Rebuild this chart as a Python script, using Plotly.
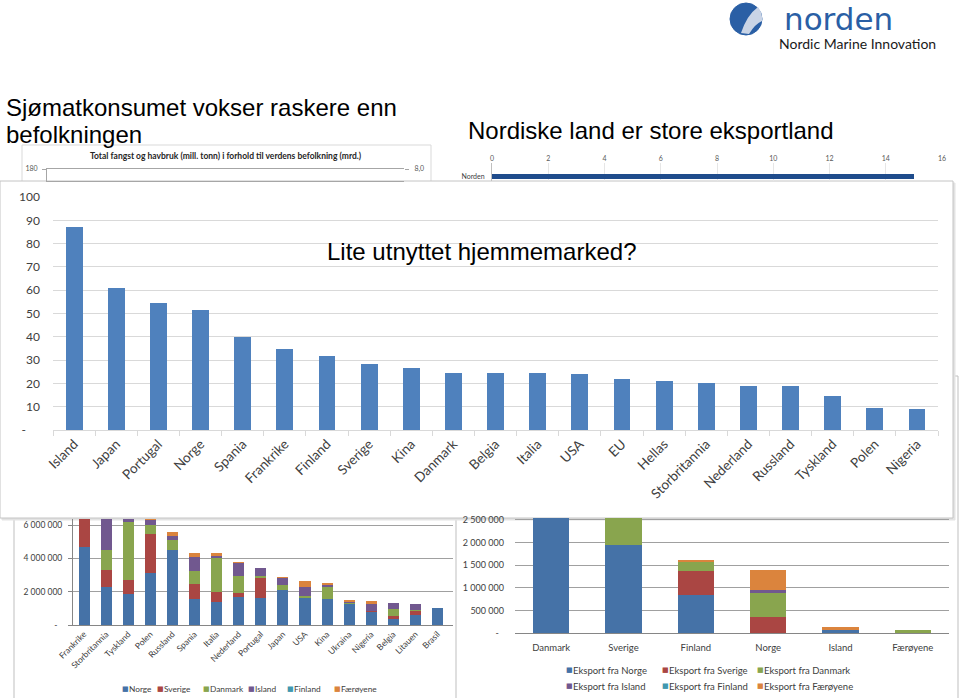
import plotly.graph_objects as go

W, H = 959, 698


def fx(x):
    return x / W


def fy(y):
    return 1 - y / H


# ---------------- data ----------------
# Front chart: "Lite utnyttet hjemmemarked?"
konsum_land = ["Island", "Japan", "Portugal", "Norge", "Spania", "Frankrike", "Finland",
               "Sverige", "Kina", "Danmark", "Belgia", "Italia", "USA", "EU", "Hellas",
               "Storbritannia", "Nederland", "Russland", "Tyskland", "Polen", "Nigeria"]
konsum_verdi = [87.2, 60.8, 54.7, 51.3, 39.9, 34.7, 31.7, 28.4, 26.4, 24.3, 24.3, 24.3,
                23.9, 21.9, 20.9, 20.3, 19.0, 18.7, 14.6, 9.3, 8.9]
konsum_tickvals = [0, 10, 20, 30, 40, 50, 60, 70, 80, 90, 100]
konsum_ticktext = ["-\u2007\u2007", "10", "20", "30", "40", "50", "60", "70", "80", "90", "100"]

# Top-right chart: "Nordiske land er store eksportland"
norden_kat = ["Norden"]
norden_verdi = [15.0]
norden_tickvals = [0, 2, 4, 6, 8, 10, 12, 14, 16]

# Top-left chart (only its frame and axis labels are visible)
tl_venstre_tick = [180]
tl_venstre_tekst = ["180"]
tl_hoyre_tick = [8.0]
tl_hoyre_tekst = ["8,0"]

# Bottom-left chart: import by country, split by Nordic exporter
import_land = ["Frankrike", "Storbritannia", "Tyskland", "Polen", "Russland", "Spania", "Italia",
               "Nederland", "Portugal", "Japan", "USA", "Kina", "Ukraina", "Nigeria", "Belgia",
               "Litauen", "Brasil"]
eksportor_navn = ["Norge", "Sverige", "Danmark", "Island", "Finland", "Færøyene"]
imp_norge = [4.70e6, 2.26e6, 1.84e6, 3.10e6, 4.50e6, 1.56e6, 1.40e6, 1.66e6, 1.62e6, 2.10e6,
             1.64e6, 1.56e6, 1.26e6, 0.80e6, 0.36e6, 0.60e6, 1.04e6]
imp_sverige = [2.00e6, 1.04e6, 0.86e6, 2.36e6, 0.02e6, 0.90e6, 0.60e6, 0.28e6, 1.22e6, 0.0,
               0.02e6, 0.0, 0.0, 0.02e6, 0.20e6, 0.24e6, 0.0]
imp_danmark = [0.60e6, 1.20e6, 3.50e6, 0.54e6, 0.56e6, 0.80e6, 2.00e6, 1.00e6, 0.10e6, 0.30e6,
               0.10e6, 0.70e6, 0.10e6, 0.0, 0.38e6, 0.06e6, 0.0]
imp_island = [0.40e6, 2.20e6, 0.30e6, 0.30e6, 0.28e6, 0.84e6, 0.14e6, 0.80e6, 0.46e6, 0.42e6,
              0.50e6, 0.18e6, 0.06e6, 0.42e6, 0.40e6, 0.34e6, 0.0]
imp_finland = [0.0] * 17
imp_faroyene = [0.10e6, 0.20e6, 0.10e6, 0.10e6, 0.20e6, 0.20e6, 0.16e6, 0.04e6, 0.0, 0.05e6,
                0.38e6, 0.10e6, 0.04e6, 0.22e6, 0.0, 0.0, 0.0]
import_serier = [imp_norge, imp_sverige, imp_danmark, imp_island, imp_finland, imp_faroyene]
bl_tickvals = [0, 2e6, 4e6, 6e6]
bl_ticktext = ["-\u2007", "2 000 000", "4 000 000", "6 000 000"]

# Bottom-right chart: Nordic countries' imports from each other
nordisk_land = ["Danmark", "Sverige", "Finland", "Norge", "Island", "Færøyene"]
eksport_navn = ["Eksport fra Norge", "Eksport fra Sverige", "Eksport fra Danmark",
                "Eksport fra Island", "Eksport fra Finland", "Eksport fra Færøyene"]
eks_norge = [3.0e6, 1.95e6, 0.84e6, 0.0, 0.06e6, 0.02e6]
eks_sverige = [0.0, 0.0, 0.53e6, 0.35e6, 0.0, 0.0]
eks_danmark = [0.0, 1.0e6, 0.19e6, 0.54e6, 0.0, 0.04e6]
eks_island = [0.0, 0.0, 0.0, 0.06e6, 0.0, 0.0]
eks_finland = [0.0, 0.0, 0.0, 0.0, 0.0, 0.0]
eks_faroyene = [0.0, 0.0, 0.05e6, 0.44e6, 0.08e6, 0.0]
eksport_serier = [eks_norge, eks_sverige, eks_danmark, eks_island, eks_finland, eks_faroyene]
br_tickvals = [0, 5e5, 1e6, 1.5e6, 2e6, 2.5e6]
br_ticktext = ["-\u2007", "500 000", "1 000 000", "1 500 000", "2 000 000", "2 500 000"]

serie_farger = ["#4572A7", "#AA4643", "#89A54E", "#71588F", "#4198AF", "#DB843D"]

# ---------------- figure ----------------
fig = go.Figure()

XF = "Lato, 'Open Sans', sans-serif"
AF = "'Liberation Sans', Arial, sans-serif"

# top-left (empty traces just to register the axes)
fig.add_trace(go.Scatter(x=[], y=[], xaxis="x", yaxis="y", showlegend=False))
fig.add_trace(go.Scatter(x=[], y=[], xaxis="x", yaxis="y2", showlegend=False))

# top-right
fig.add_trace(go.Bar(x=norden_verdi, y=norden_kat, orientation="h", xaxis="x2", yaxis="y3",
                     marker_color="#1F4C8C", width=0.3, showlegend=False))

# front chart
fig.add_trace(go.Bar(x=konsum_land, y=konsum_verdi, xaxis="x3", yaxis="y4",
                     marker_color="#4F81BD", width=0.4, showlegend=False))

# bottom-left stacked
for navn, verdier, farge in zip(eksportor_navn, import_serier, serie_farger):
    fig.add_trace(go.Bar(x=import_land, y=verdier, name=navn, xaxis="x4", yaxis="y5",
                         marker_color=farge, width=0.5, showlegend=False))

# bottom-right stacked
for navn, verdier, farge in zip(eksport_navn, eksport_serier, serie_farger):
    fig.add_trace(go.Bar(x=nordisk_land, y=verdier, name=navn, xaxis="x5", yaxis="y6",
                         marker_color=farge, width=0.5, showlegend=False))

small_grey = dict(family=XF, size=7, color="#595959")
NOAM = dict(automargin=False)

fig.update_layout(
    template="none",
    width=W, height=H,
    autosize=False,
    margin=dict(l=0, r=0, t=0, b=0, pad=0, autoexpand=False),
    paper_bgcolor="white",
    plot_bgcolor="rgba(0,0,0,0)",
    barmode="stack",
    bargap=0,
    showlegend=False,
    # top-left
    xaxis=dict(domain=[fx(47), fx(404)], anchor="y", range=[0, 1], showticklabels=False,
               showgrid=False, zeroline=False, showline=True, mirror=True,
               linecolor="#a6a6a6", linewidth=1, ticks="", **NOAM),
    yaxis=dict(domain=[fy(181), fy(169)], anchor="x", range=[170, 180.02],
               tickmode="array", tickvals=tl_venstre_tick, ticktext=tl_venstre_tekst,
               tickfont=small_grey, showgrid=False, zeroline=False, showline=True,
               linecolor="#a6a6a6", ticks="outside", ticklen=4, tickcolor="#a6a6a6",
               ticklabelstandoff=3, **NOAM),
    yaxis2=dict(overlaying="y", side="right", anchor="x", range=[7.5, 8.001],
                tickmode="array", tickvals=tl_hoyre_tick, ticktext=tl_hoyre_tekst,
                tickfont=small_grey, showgrid=False, zeroline=False, showline=False,
                ticks="outside", ticklen=4, tickcolor="#a6a6a6", ticklabelstandoff=4, **NOAM),
    # top-right
    xaxis2=dict(domain=[fx(492), fx(942)], anchor="y3", side="top", range=[0, 16],
                tickmode="array", tickvals=norden_tickvals, tickfont=small_grey,
                showgrid=True, gridcolor="#e6e6e6", zeroline=False, showline=False,
                ticks="", ticklabelstandoff=0, **NOAM),
    yaxis3=dict(domain=[fy(181), fy(163)], anchor="x2", type="category",
                range=[-0.24, 0.76], tickfont=dict(family=XF, size=7, color="#404040"),
                showgrid=False, zeroline=False, showline=True, linecolor="#bfbfbf",
                ticks="", ticklabelstandoff=5, **NOAM),
    # front chart
    xaxis3=dict(domain=[fx(53), fx(938)], anchor="y4", type="category",
                range=[-0.5, len(konsum_land) - 0.5], dtick=1, tickangle=-45,
                tickfont=dict(family=XF, size=13.5, color="#404040"),
                showgrid=False, zeroline=False, showline=True, linecolor="#d9d9d9",
                ticks="outside", tickson="boundaries", ticklen=5, tickcolor="#d9d9d9", **NOAM),
    yaxis4=dict(domain=[fy(430), fy(197)], anchor="x3", range=[0, 100],
                tickmode="array", tickvals=konsum_tickvals, ticktext=konsum_ticktext,
                tickfont=dict(family=XF, size=12, color="#404040"),
                showgrid=True, gridcolor="#d9d9d9", zeroline=False, showline=False,
                ticks="", ticklabelstandoff=12, **NOAM),
    # bottom-left
    xaxis4=dict(domain=[fx(73), fx(453)], anchor="y5", type="category",
                range=[-0.5, 16.7], dtick=1, tickangle=-45,
                tickfont=dict(family=XF, size=8.5, color="#404040"),
                showgrid=False, zeroline=False, showline=True, linecolor="#868686",
                ticks="", **NOAM),
    yaxis5=dict(domain=[fy(625), fy(519)], anchor="x4", range=[0, 6.36e6],
                tickmode="array", tickvals=bl_tickvals, ticktext=bl_ticktext,
                tickfont=dict(family=XF, size=8.5, color="#404040"),
                showgrid=True, gridcolor="#a0a0a0", zeroline=False, showline=True,
                linecolor="#868686", ticks="outside", ticklen=4, tickcolor="#868686",
                ticklabelstandoff=4, **NOAM),
    # bottom-right
    xaxis5=dict(domain=[fx(515), fx(949)], anchor="y6", type="category",
                range=[-0.5, 5.5], tickfont=dict(family=XF, size=9.5, color="#404040"),
                showgrid=False, zeroline=False, showline=True, linecolor="#868686",
                ticks="", ticklabelstandoff=6, **NOAM),
    yaxis6=dict(domain=[fy(633), fy(518)], anchor="x5", range=[0, 2.544e6],
                tickmode="array", tickvals=br_tickvals, ticktext=br_ticktext,
                tickfont=dict(family=XF, size=9, color="#404040"),
                showgrid=True, gridcolor="#a0a0a0", zeroline=False, showline=False,
                ticks="", ticklabelstandoff=10, **NOAM),
)

# ---------------- panels (paper shapes, below the plots) ----------------
def rect(x0, y0, x1, y1, line="#bfbfbf", fill="white", width=1):
    return dict(type="rect", xref="paper", yref="paper", layer="below",
                x0=fx(x0), x1=fx(x1), y0=fy(y1), y1=fy(y0),
                line=dict(color=line, width=width), fillcolor=fill)


shapes = [
    rect(22, 145, 431, 300, line="#d9d9d9"),          # top-left panel
    rect(14, 400, 470, 702, line="#bfbfbf"),          # bottom-left panel
    rect(456, 376, 958, 702, line="#bfbfbf"),         # bottom-right panel
    rect(2, 183, 955, 520, line="#e3e3e3", fill="#e3e3e3"),  # shadow
    rect(0, 181, 953, 518, line="#c4c4c4"),           # front panel
    # logo circle
    dict(type="circle", xref="paper", yref="paper", layer="above",
         x0=fx(730), x1=fx(762), y0=fy(35), y1=fy(3),
         line=dict(color="#2A5FA5", width=1), fillcolor="#2A5FA5"),
    dict(type="path", xref="paper", yref="paper", layer="above",
         path=f"M {fx(741)},{fy(33)} Q {fx(747)},{fy(15)} {fx(758)},{fy(7)} "
              f"Q {fx(763)},{fy(14)} {fx(762)},{fy(21)} Q {fx(755)},{fy(24)} {fx(749)},{fy(34)} Z",
         line=dict(width=0), fillcolor="#C9D4E6"),
]
fig.update_layout(shapes=shapes)

# ---------------- text ----------------
ann = []


def text(x, y, s, size, family=AF, color="black", xanchor="left", yanchor="middle", **kw):
    ann.append(dict(x=fx(x), y=fy(y), xref="paper", yref="paper", text=s, showarrow=False,
                    xanchor=xanchor, yanchor=yanchor, borderpad=0,
                    font=dict(family=family, size=size, color=color), **kw))


text(5, 107, "Sjømatkonsumet vokser raskere enn", 24)
text(5, 134, "befolkningen", 24)
text(651, 131, "Nordiske land er store eksportland", 24, xanchor="center")
text(481, 251, "Lite utnyttet hjemmemarked?", 24, xanchor="center")
text(226, 156, "<b>Total fangst og havbruk (mill. tonn) i forhold til verdens befolkning (mrd.)</b>",
     8.5, family=XF, color="#262626", xanchor="center")
text(838, 19, "norden", 31, family="'DejaVu Sans', sans-serif", color="#2A5FA5", xanchor="center")
text(778, 44, "Nordic Marine Innovation", 14, family=XF, color="#1a1a1a")

# legend rows (custom, compact like the original)
bl_leg_x = [122, 157, 203, 248, 287, 334]
for navn, farge, x in zip(eksportor_navn, serie_farger, bl_leg_x):
    text(x - 1, 689, "■", 7, family="'DejaVu Sans', sans-serif", color=farge)
    text(x + 6, 689, navn, 8.3, family=XF, color="#404040")

br_leg_x = [566, 662, 757, 566, 662, 757]
br_leg_y = [670, 670, 670, 686, 686, 686]
for navn, farge, x, y in zip(eksport_navn, serie_farger, br_leg_x, br_leg_y):
    text(x - 1, y, "■", 7, family="'DejaVu Sans', sans-serif", color=farge)
    text(x + 6, y, navn, 9.5, family=XF, color="#404040")

fig.update_layout(annotations=ann)

fig.write_html("out.html")
